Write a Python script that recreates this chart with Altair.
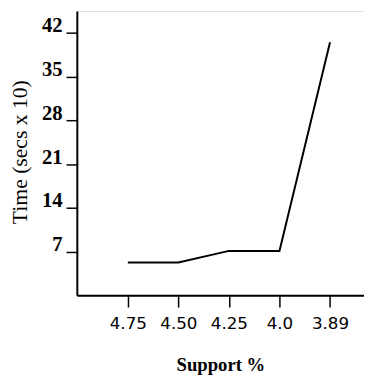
import altair as alt
import pandas as pd

support = ["4.75", "4.50", "4.25", "4.0", "3.89"]
times = [5.25, 5.25, 7.1, 7.1, 40.5]
y_ticks = [7, 14, 21, 28, 35, 42]

df = pd.DataFrame({"support": support, "time": times})

chart = alt.Chart(df).mark_line(color="black", strokeWidth=2).encode(
    x=alt.X(
        "support:N",
        sort=None,
        scale=alt.Scale(type="point", padding=0.84, align=0.6),
        axis=alt.Axis(
            title="Support %",
            labelAngle=0,
            labelFont="DejaVu Sans",
            labelFontSize=17,
            labelColor="black",
            labelPadding=9,
            labelBaseline="top",
            tickSize=12,
            tickWidth=1.5,
            tickColor="black",
            domainColor="black",
            domainWidth=2,
            titleFont="Liberation Serif",
            titleFontSize=19,
            titleFontWeight="bold",
            titleColor="black",
            titleBaseline="alphabetic",
            titleY=77,
            grid=False,
        ),
    ),
    y=alt.Y(
        "time:Q",
        scale=alt.Scale(domain=[0, 45.5], nice=False, zero=True),
        axis=alt.Axis(
            title="Time (secs x 10)",
            values=y_ticks,
            labelFont="Liberation Serif",
            labelFontSize=21,
            labelFontWeight="bold",
            labelColor="black",
            labelBaseline="alphabetic",
            labelOffset=-1,
            labelPadding=4,
            tickSize=11,
            tickWidth=1.5,
            tickColor="black",
            domainColor="black",
            domainWidth=2,
            titleFont="Liberation Serif",
            titleFontSize=22,
            titleFontWeight="normal",
            titleColor="black",
            titleAngle=-90,
            titleBaseline="middle",
            titleAlign="center",
            titleX=-58,
            titleY=143,
            grid=False,
        ),
    ),
).properties(
    width=292,
    height=289,
    autosize=alt.AutoSizeParams(type="none"),
    padding={"left": 70, "top": 0, "right": 0, "bottom": 78},
).configure_view(stroke=None).configure(background="white")

chart.save("out.html", embed_options={"renderer": "svg", "actions": False})
